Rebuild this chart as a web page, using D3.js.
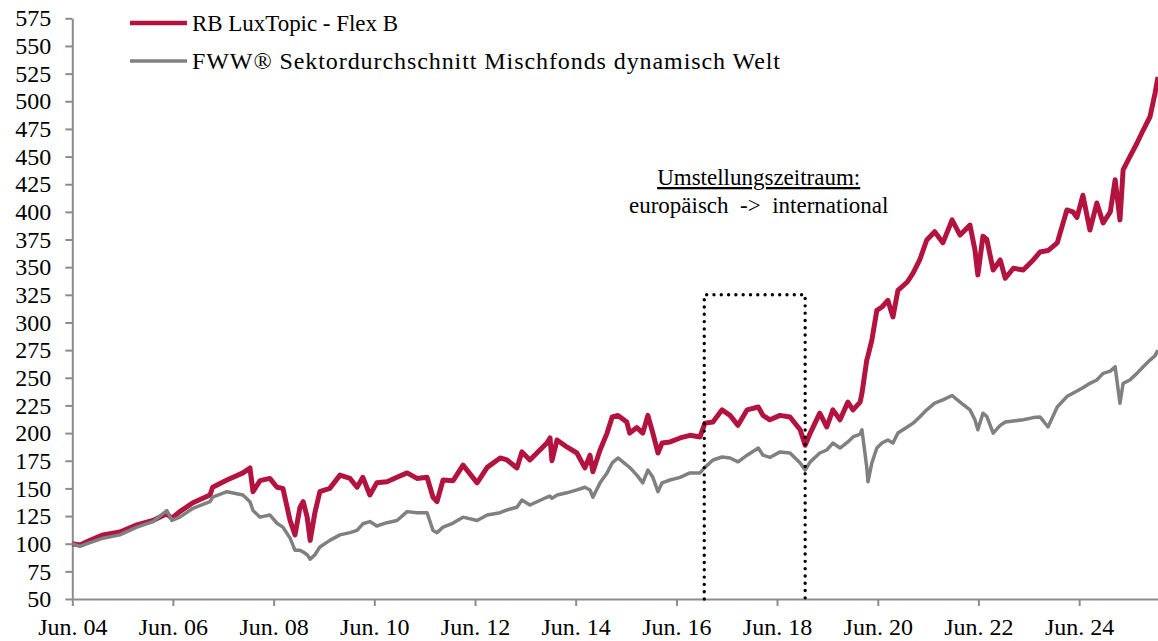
<!DOCTYPE html>
<html>
<head>
<meta charset="utf-8">
<script src="https://cdn.jsdelivr.net/npm/d3@7"></script>
<style>
  body { margin: 0; background: #fff; }
  svg text { font-family: "Liberation Serif", "Times New Roman", serif; fill: #000; }
</style>
</head>
<body>
<script>
// values (index, Jun. 04 = 100)
var dates = [
  "2004-06-01","2004-07-26","2004-10-08","2005-01-10","2005-05-12","2005-09-13","2006-01-07","2006-04-18",
  "2006-05-24","2006-07-21","2006-10-24","2007-02-25","2007-03-16","2007-06-28","2007-10-22","2007-12-12",
  "2008-01-03","2008-02-23","2008-05-04","2008-06-25","2008-08-07","2008-09-28","2008-11-03","2008-12-09",
  "2009-01-01","2009-01-30","2009-02-21","2009-03-27","2009-05-02","2009-07-13","2009-09-25","2009-12-07",
  "2010-01-27","2010-03-10","2010-04-30","2010-06-19","2010-09-01","2010-11-13","2011-01-25","2011-04-07",
  "2011-06-19","2011-08-01","2011-08-30","2011-10-13","2011-12-25","2012-03-06","2012-06-16","2012-08-28",
  "2012-11-30","2013-01-19","2013-04-01","2013-05-07","2013-07-04","2013-11-04","2013-11-27","2013-12-11",
  "2014-01-17","2014-03-29","2014-06-10","2014-08-07","2014-09-13","2014-10-04","2014-11-25","2015-01-15",
  "2015-02-21","2015-04-04","2015-06-07","2015-06-28","2015-08-19","2015-10-01","2015-11-07","2015-12-13",
  "2016-01-19","2016-02-18","2016-04-16","2016-06-28","2016-09-07","2016-11-19","2016-12-25","2017-02-21",
  "2017-04-28","2017-06-25","2017-08-22","2017-10-27","2018-01-16","2018-02-19","2018-04-10","2018-06-22",
  "2018-09-03","2018-11-16","2018-12-22","2019-01-28","2019-04-07","2019-05-28","2019-07-11","2019-09-01",
  "2019-10-28","2019-12-04","2020-01-25","2020-02-07","2020-03-13","2020-03-22","2020-04-19","2020-05-25",
  "2020-07-01","2020-08-13","2020-09-19","2020-10-25","2021-01-01","2021-02-13","2021-04-01","2021-05-22",
  "2021-07-19","2021-09-16","2021-11-22","2022-01-19","2022-04-01","2022-05-07","2022-05-28","2022-07-04",
  "2022-08-01","2022-09-16","2022-11-06","2022-12-13","2023-02-10","2023-04-22","2023-07-04","2023-08-22",
  "2023-10-19","2023-12-25","2024-03-04","2024-04-16","2024-05-16","2024-06-28","2024-08-18","2024-10-07",
  "2024-11-22","2025-01-13","2025-02-17","2025-03-24","2025-04-16","2025-06-04","2025-07-25","2025-09-09",
  "2025-10-28","2025-12-04","2025-12-25"
];

var luxTopic = [
  100, 98.8, 103, 108, 110.5, 117, 121, 127,
  123, 129, 137, 144, 151, 157.6, 164, 168.5,
  147, 157, 159, 151, 150, 121, 108, 133,
  138, 124, 103, 128, 147, 150, 162, 159,
  151, 160, 144, 155, 156, 160, 164, 159,
  160, 142, 138, 157.6, 157, 171, 155, 169,
  177.5, 175.7, 168.5, 183, 175.7, 191, 195.6, 175,
  193.8, 187.5, 182, 168.5, 180, 165, 184.7, 200,
  214.6, 216, 210, 200, 205, 200, 216, 200,
  182, 191, 192, 195.6, 198, 196.5, 209, 210,
  221, 216, 207, 221, 223.6, 216, 212, 216,
  214.6, 203, 189, 200, 218, 205.5, 221, 212,
  228, 221, 228, 236, 266, 270, 284, 311,
  314, 320, 305, 329, 336.6, 344.8, 356.5, 374.6,
  382, 372, 392.7, 379, 388, 365.5, 343, 378,
  375, 347.5, 356.5, 340, 349, 347.5, 356.5, 363.7,
  365, 372, 401.7, 400, 395, 415, 383.6, 408,
  390, 400, 429, 392.7, 438, 450, 462, 474,
  486, 507.5, 522
];

var sektor = [
  100, 97.5, 101, 105, 108, 115, 120, 130,
  121, 124, 132, 138, 142, 147, 144, 138,
  130, 124, 126, 118.5, 115, 105, 94, 94,
  92.5, 90, 86, 90, 97, 103, 108, 110,
  112, 118, 120, 116, 119, 121, 129, 128,
  128, 112, 110, 115, 118.7, 124, 121, 126,
  128, 130.5, 133, 139.5, 135, 142, 143, 141,
  144, 146, 148.6, 151, 148.6, 142, 155, 164,
  173, 177.5, 171, 169, 162, 155, 166.6, 160,
  147, 155, 157.6, 160, 164, 164, 169, 175.7,
  178.4, 177.5, 174, 180, 186.5, 180, 178, 183,
  182, 173, 166.6, 174, 182, 184.7, 191, 186.5,
  192, 196.5, 199, 203, 169, 156, 173, 186.5,
  191, 193.8, 191, 200, 205.5, 209, 214.6, 221,
  227, 230, 234, 228, 221, 212, 203, 218,
  215, 200, 207, 210, 211, 212, 214, 214.6,
  205.5, 223.6, 233, 236, 238, 241, 245, 248,
  254, 256, 260, 227, 245, 248, 254, 260,
  266, 270, 275
];

var seriesNames = ["RB LuxTopic - Flex B", "FWW® Sektordurchschnitt Mischfonds dynamisch Welt"];
var seriesColors = ["#b3143f", "#808080"];
var yTicks = d3.range(50, 576, 25);
var xTickYears = [2004, 2006, 2008, 2010, 2012, 2014, 2016, 2018, 2020, 2022, 2024];
var noteLines = ["Umstellungszeitraum:", "europäisch  ->  international"];
var period = ["2016-12-20", "2018-12-22"];
var periodTop = 325;

var W = 1158, H = 641;
var parse = d3.timeParse("%Y-%m-%d");

var svg = d3.select("body").append("svg")
  .attr("width", W)
  .attr("height", H);

var x = d3.scaleTime()
  .domain([parse("2004-06-01"), parse("2025-12-25")])
  .range([72.3, 1158]);

var y = d3.scaleLinear()
  .domain([50, 575])
  .range([599, 18.3]);

// axes
var yAxis = svg.append("g")
  .attr("transform", "translate(72.3,0)")
  .call(d3.axisLeft(y).tickValues(yTicks).tickSize(7).tickSizeOuter(0).tickPadding(14));

var xAxis = svg.append("g")
  .attr("transform", "translate(0,599)")
  .call(d3.axisBottom(x)
    .tickValues(xTickYears.map(function (yr) { return new Date(yr, 5, 1); }))
    .tickFormat(function (d) { return "Jun. " + d3.timeFormat("%y")(d); })
    .tickSize(7).tickSizeOuter(0).tickPadding(12));

[yAxis, xAxis].forEach(function (g) {
  g.selectAll("path, line").attr("stroke", "#8c8c8c").attr("stroke-width", 2);
  g.selectAll("text").attr("font-family", "Liberation Serif").attr("font-size", 24);
});

// lines
var rows = dates.map(function (d, i) {
  return { date: parse(d), a: luxTopic[i], b: sektor[i] };
});

var lineA = d3.line().x(function (d) { return x(d.date); }).y(function (d) { return y(d.a); });
var lineB = d3.line().x(function (d) { return x(d.date); }).y(function (d) { return y(d.b); });

svg.append("path")
  .datum(rows)
  .attr("d", lineA)
  .attr("fill", "none")
  .attr("stroke", seriesColors[0])
  .attr("stroke-width", 5)
  .attr("stroke-linejoin", "round");

svg.append("path")
  .datum(rows)
  .attr("d", lineB)
  .attr("fill", "none")
  .attr("stroke", seriesColors[1])
  .attr("stroke-width", 3.5)
  .attr("stroke-linejoin", "round");

// dotted box for the changeover period
var x0 = x(parse(period[0])), x1 = x(parse(period[1]));
svg.append("path")
  .attr("d", d3.line()([[x0, y(50)], [x0, y(periodTop)], [x1, y(periodTop)], [x1, y(50)]]))
  .attr("fill", "none")
  .attr("stroke", "#000")
  .attr("stroke-width", 3.4)
  .attr("stroke-linecap", "round")
  .attr("stroke-dasharray", "0,7.3");

var noteX = (x0 + x1) / 2 + 4;
svg.append("text")
  .attr("x", noteX)
  .attr("y", 185)
  .attr("text-anchor", "middle")
  .attr("font-size", 23)
  .attr("text-decoration", "underline")
  .text(noteLines[0]);
svg.append("text")
  .attr("x", noteX)
  .attr("y", 213)
  .attr("text-anchor", "middle")
  .attr("font-size", 23)
  .style("white-space", "pre")
  .text(noteLines[1]);

// legend
var legendWidths = [206, 588];
var legend = svg.append("g");
seriesNames.forEach(function (name, i) {
  var ly = 23 + i * 38;
  legend.append("line")
    .attr("x1", 130).attr("x2", 187)
    .attr("y1", ly).attr("y2", ly)
    .attr("stroke", seriesColors[i])
    .attr("stroke-width", i === 0 ? 4.5 : 3.5);
  legend.append("text")
    .attr("x", 192)
    .attr("y", ly + 8)
    .attr("font-size", i === 0 ? 23 : 24)
    .attr("textLength", legendWidths[i])
    .attr("lengthAdjust", "spacing")
    .text(name);
});
</script>
</body>
</html>
